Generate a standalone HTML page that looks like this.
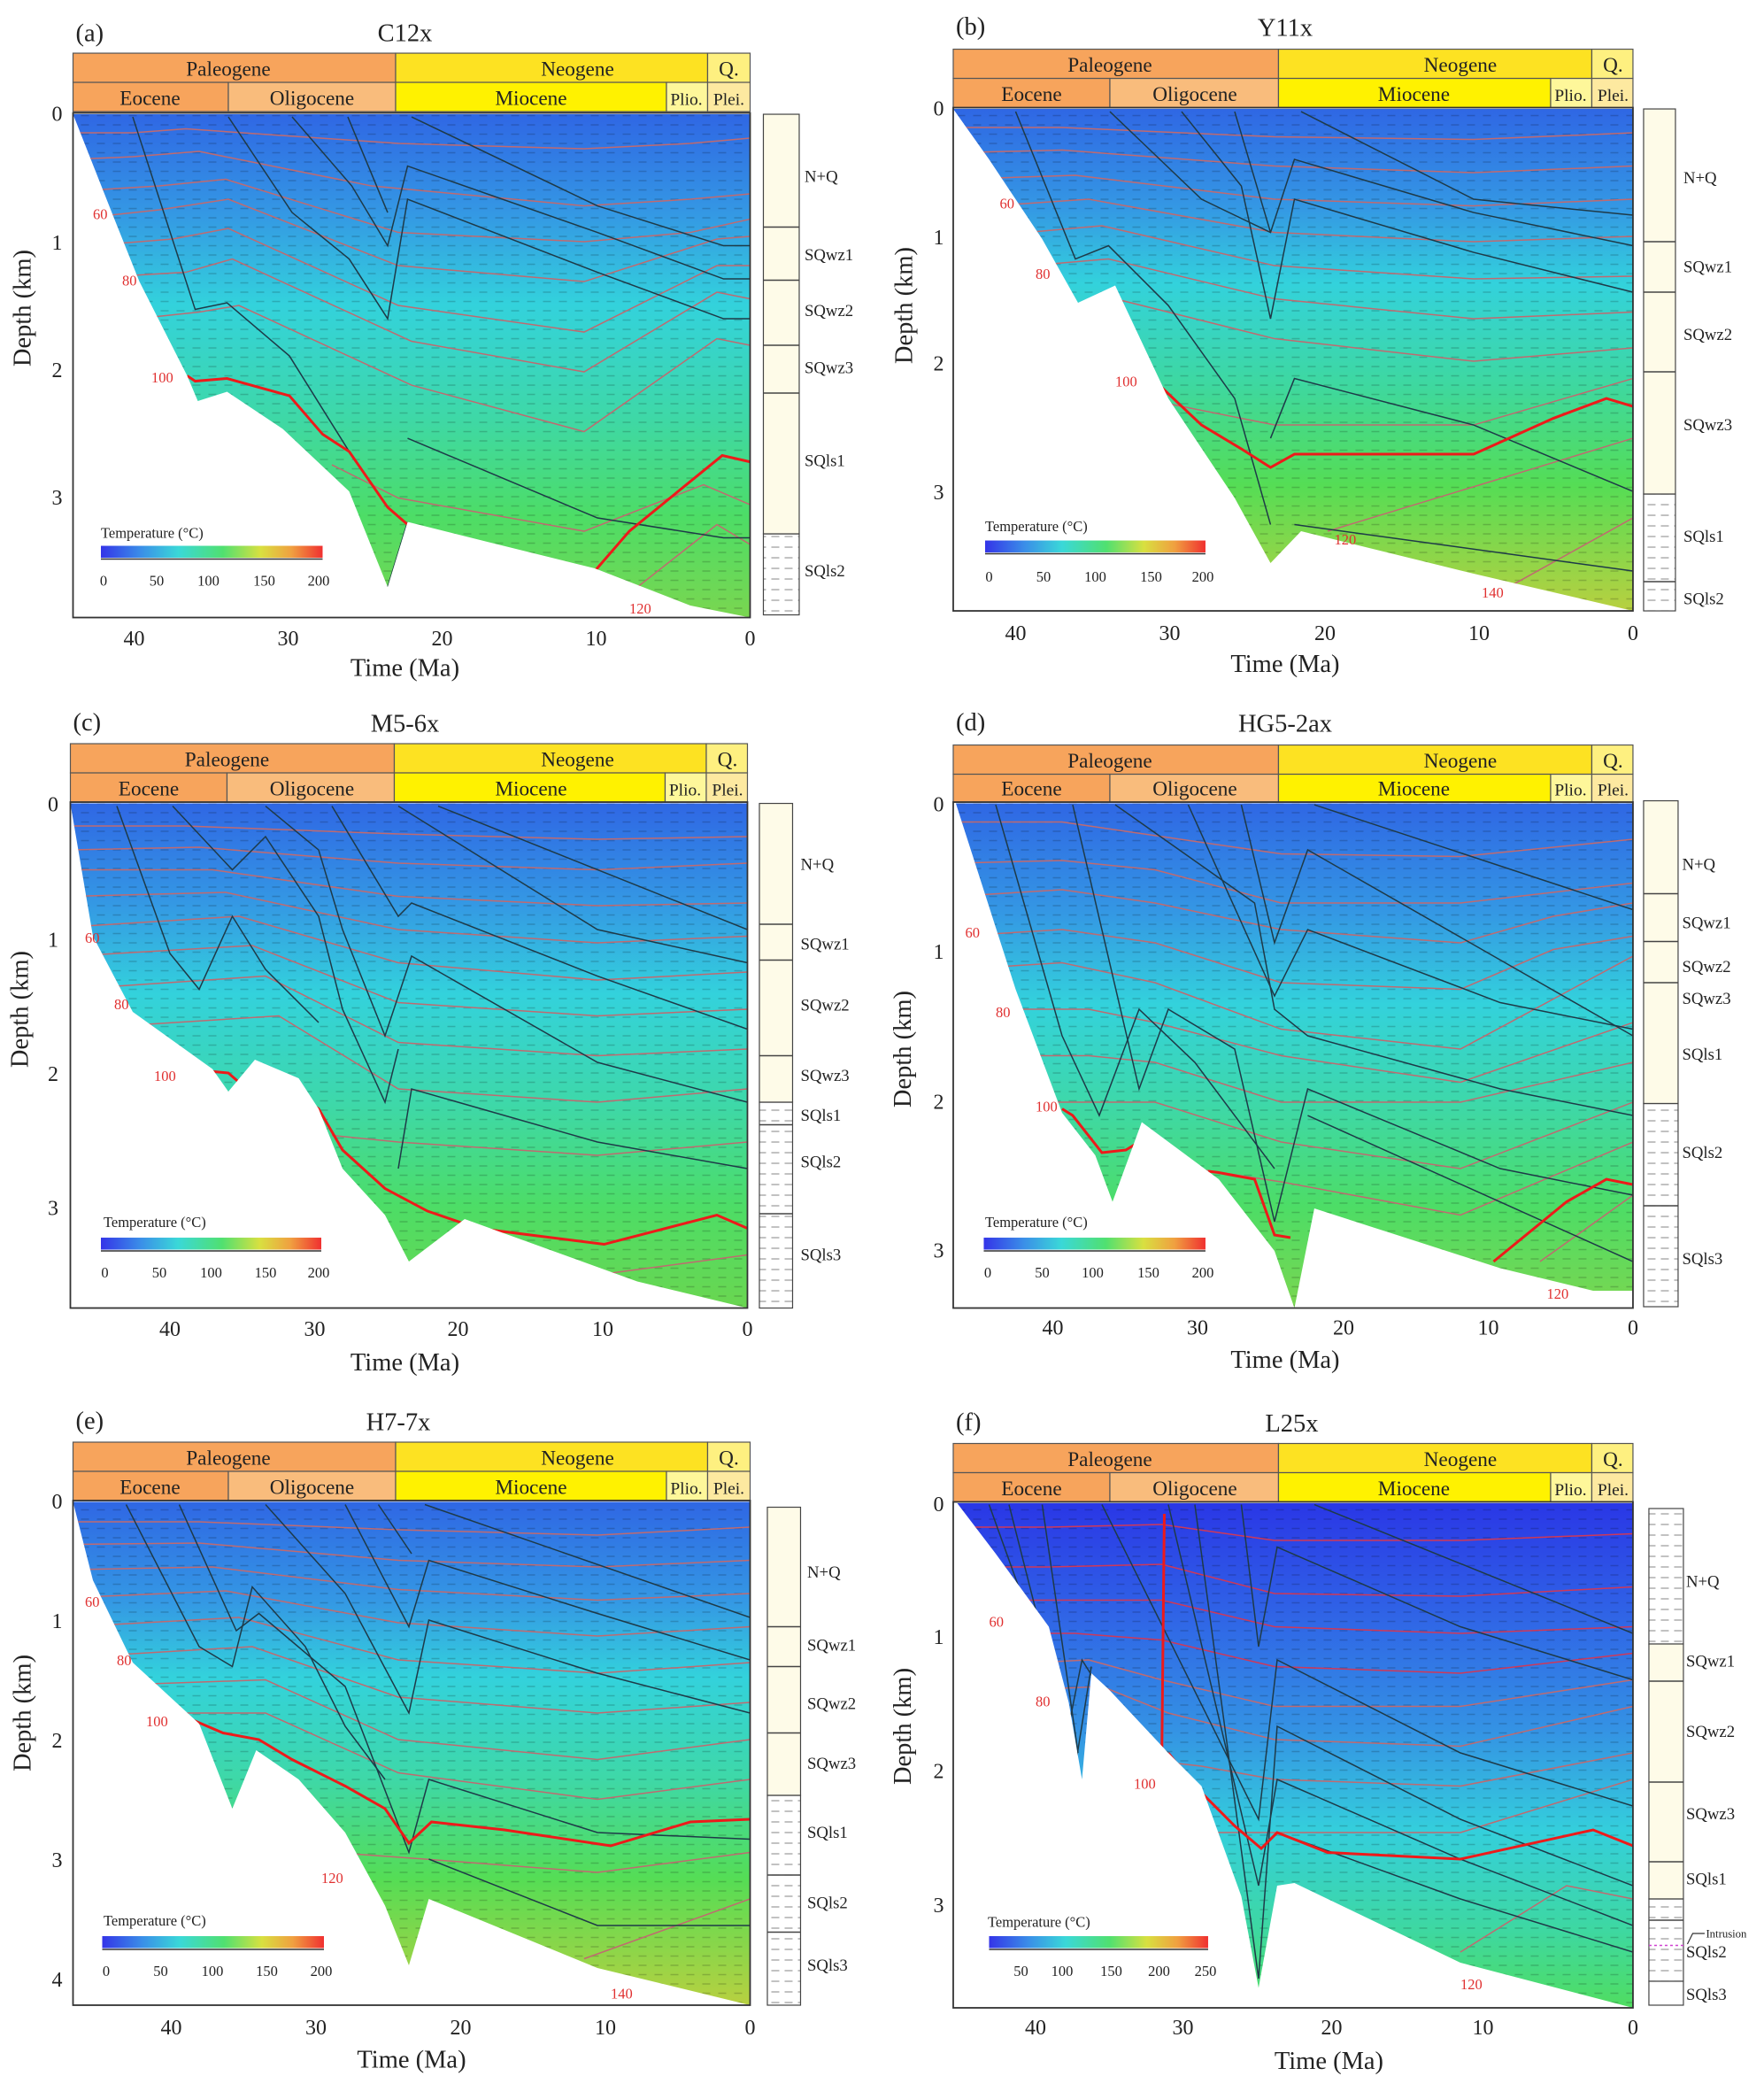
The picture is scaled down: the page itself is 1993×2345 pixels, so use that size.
<!DOCTYPE html>
<html><head><meta charset="utf-8"><style>
html,body{margin:0;padding:0;background:#fff}
svg{display:block}
text{font-family:"Liberation Serif",serif;fill:#222}
.h{font-size:15.5px;text-anchor:middle}
.t{font-size:19px;text-anchor:middle}
.tk{font-size:16px;text-anchor:middle}
.dk{font-size:16px;text-anchor:end}
.s{font-size:12.5px}
.r{font-size:11px;fill:#e03030}
.cb{font-size:11px;text-anchor:middle}
.iso{fill:none;stroke:#c06a70;stroke-width:1}
.bl{fill:none;stroke:#1e3a48;stroke-width:1}
.red{fill:none;stroke:#ee1a1a;stroke-width:2}
</style></head><body>
<svg width="1993" height="2345" viewBox="0 0 1328.7 1563.3" xmlns="http://www.w3.org/2000/svg">
<defs>
<linearGradient id="cbar" x1="0" x2="1" y1="0" y2="0">
<stop offset="0" stop-color="#3434e8"/><stop offset="0.18" stop-color="#3a8ee8"/><stop offset="0.35" stop-color="#3ad8d8"/><stop offset="0.55" stop-color="#50e070"/><stop offset="0.72" stop-color="#d8e040"/><stop offset="0.86" stop-color="#f0a040"/><stop offset="1" stop-color="#f03030"/></linearGradient>
<linearGradient id="ga" gradientUnits="userSpaceOnUse" x1="0" y1="85" x2="0" y2="465">
<stop offset="0" stop-color="#2f66e4"/><stop offset="0.2" stop-color="#3498e4"/><stop offset="0.38" stop-color="#33d2dc"/><stop offset="0.6" stop-color="#3ed8a8"/><stop offset="0.8" stop-color="#4ddd66"/><stop offset="1" stop-color="#7ad650"/></linearGradient>
<linearGradient id="gb" gradientUnits="userSpaceOnUse" x1="0" y1="81" x2="0" y2="460">
<stop offset="0" stop-color="#2f66e4"/><stop offset="0.2" stop-color="#3498e4"/><stop offset="0.35" stop-color="#33d2dc"/><stop offset="0.55" stop-color="#3ed8a0"/><stop offset="0.75" stop-color="#55dd55"/><stop offset="1" stop-color="#b8d040"/></linearGradient>
<linearGradient id="gc" gradientUnits="userSpaceOnUse" x1="0" y1="604" x2="0" y2="985">
<stop offset="0" stop-color="#2f66e4"/><stop offset="0.2" stop-color="#3498e4"/><stop offset="0.38" stop-color="#33d2dc"/><stop offset="0.6" stop-color="#3ed8a8"/><stop offset="0.8" stop-color="#4ddd66"/><stop offset="1" stop-color="#6ad650"/></linearGradient>
<linearGradient id="gd" gradientUnits="userSpaceOnUse" x1="0" y1="604" x2="0" y2="985">
<stop offset="0" stop-color="#2f66e4"/><stop offset="0.22" stop-color="#3498e4"/><stop offset="0.4" stop-color="#33d2dc"/><stop offset="0.6" stop-color="#3ed8a8"/><stop offset="0.8" stop-color="#4ddd66"/><stop offset="1" stop-color="#7ad650"/></linearGradient>
<linearGradient id="ge" gradientUnits="userSpaceOnUse" x1="0" y1="1130" x2="0" y2="1510">
<stop offset="0" stop-color="#2f66e4"/><stop offset="0.2" stop-color="#3498e4"/><stop offset="0.35" stop-color="#33d2dc"/><stop offset="0.55" stop-color="#3ed8a8"/><stop offset="0.75" stop-color="#55dd55"/><stop offset="1" stop-color="#b8d040"/></linearGradient>
<linearGradient id="gf" gradientUnits="userSpaceOnUse" x1="0" y1="1131" x2="0" y2="1512">
<stop offset="0" stop-color="#2a36e6"/><stop offset="0.2" stop-color="#2f5fe6"/><stop offset="0.45" stop-color="#3492e4"/><stop offset="0.65" stop-color="#34cfdc"/><stop offset="0.85" stop-color="#3ed8a0"/><stop offset="1" stop-color="#50dd60"/></linearGradient>
<pattern id="dash" width="12" height="7" patternUnits="userSpaceOnUse"><line x1="1" y1="3" x2="7" y2="3" stroke="#000" stroke-opacity="0.18" stroke-width="1"/></pattern>
<pattern id="sd" width="10" height="8" patternUnits="userSpaceOnUse"><line x1="1" y1="4" x2="7" y2="4" stroke="#999" stroke-width="0.8"/></pattern>
<clipPath id="ca"><polygon points="55,86 565,86 565,465 520,456 448,428 367,408 307,393 292,442 263,370 213,323 171,295 149,302 141,283 105,212 85,162"/></clipPath>
<clipPath id="cb"><polygon points="718,82 1230,82 1230,460 1110,432 980,400 957,424 930,375 880,300 840,215 812,228 785,180 745,120"/></clipPath>
<clipPath id="cc"><polygon points="53,605 563,605 563,985 480,965 350,918 308,950 290,915 258,880 240,835 225,812 192,798 172,822 160,805 100,762 70,705"/></clipPath>
<clipPath id="cd"><polygon points="720,605 1230,605 1230,972 1200,972 1130,955 990,910 975,985 960,942 918,888 860,845 838,905 825,870 800,838 765,745"/></clipPath>
<clipPath id="ce"><polygon points="55,1131 565,1131 565,1510 450,1482 323,1430 308,1480 290,1435 260,1380 225,1340 193,1318 175,1362 150,1298 100,1252 70,1190"/></clipPath>
<clipPath id="cf"><polygon points="721,1132 1230,1132 1230,1512 1100,1478 975,1418 962,1420 948,1497 935,1428 905,1345 880,1320 835,1272 822,1260 815,1340 805,1282 790,1225 750,1170"/></clipPath>
</defs>

<!-- ============ PANEL A ============ -->
<text x="57" y="31" style="font-size:19px">(a)</text>
<text x="305" y="31" class="t">C12x</text>
<rect x="55" y="40" width="243" height="22" fill="#f7a45c" stroke="#555" stroke-width=".8"/>
<rect x="298" y="40" width="235" height="22" fill="#fde222" stroke="#555" stroke-width=".8"/>
<rect x="533" y="40" width="32" height="22" fill="#fef080" stroke="#555" stroke-width=".8"/>
<rect x="55" y="62" width="117" height="22" fill="#f7a45c" stroke="#555" stroke-width=".8"/>
<rect x="172" y="62" width="126" height="22" fill="#f9bc7c" stroke="#555" stroke-width=".8"/>
<rect x="298" y="62" width="204" height="22" fill="#fff200" stroke="#555" stroke-width=".8"/>
<rect x="502" y="62" width="31" height="22" fill="#fef79a" stroke="#555" stroke-width=".8"/>
<rect x="533" y="62" width="32" height="22" fill="#fde9a0" stroke="#555" stroke-width=".8"/>
<text x="172" y="57" class="h">Paleogene</text><text x="435" y="57" class="h">Neogene</text><text x="549" y="57" class="h">Q.</text>
<text x="113" y="79" class="h">Eocene</text><text x="235" y="79" class="h">Oligocene</text><text x="400" y="79" class="h">Miocene</text><text x="517" y="79" class="h" style="font-size:13px">Plio.</text><text x="549" y="79" class="h" style="font-size:13px">Plei.</text>
<g clip-path="url(#ca)">
<rect x="55" y="85" width="510" height="380" fill="url(#ga)"/>
<rect x="55" y="85" width="510" height="380" fill="url(#dash)"/>
<g class="iso">
<polyline points="55,100 100,100 140,97 300,108 440,112 520,108 565,104"/>
<polyline points="55,120 100,118 150,114 280,140 440,155 520,150 565,146"/>
<polyline points="55,144 120,140 170,135 300,175 440,182 520,175 565,165"/>
<polyline points="55,165 120,158 172,150 300,200 440,212 540,180 565,178"/>
<polyline points="55,186 130,180 172,172 300,230 440,250 540,200 565,200"/>
<polyline points="55,210 140,205 175,195 310,257 440,280 540,220 565,225"/>
<polyline points="55,245 150,235 180,230 310,290 440,325 540,255 565,260"/>
<polyline points="250,350 300,375 440,400 530,365 565,380"/>
<polyline points="470,450 540,395 565,410"/>
</g>
<g class="bl">
<polyline points="100,88 147,233 171,228 218,268 263,340 292,382"/>
<polyline points="172,88 220,160 263,195 292,240 307,150 450,205 545,240 565,240"/>
<polyline points="220,88 265,140 292,185 307,125 450,175 545,210 565,210"/>
<polyline points="262,88 292,160"/>
<polyline points="310,88 450,155 545,185 565,185"/>
<polyline points="307,393 292,442"/>
<polyline points="307,330 450,390 545,405 565,405"/>
</g>
<polyline class="red" points="141,283 147,287 171,285 218,298 243,327 263,340 292,382 307,395 367,412 448,430 474,400 544,343 566,348"/>
</g>
<text x="70" y="165" class="r">60</text><text x="92" y="215" class="r">80</text><text x="114" y="288" class="r">100</text><text x="474" y="462" class="r">120</text>
<rect x="55" y="85" width="510" height="380" fill="none" stroke="#333" stroke-width="1.2"/>
<text x="47" y="91" class="dk">0</text><text x="47" y="188" class="dk">1</text><text x="47" y="284" class="dk">2</text><text x="47" y="380" class="dk">3</text>
<text x="101" y="486" class="tk">40</text><text x="217" y="486" class="tk">30</text><text x="333" y="486" class="tk">20</text><text x="449" y="486" class="tk">10</text><text x="565" y="486" class="tk">0</text>
<text x="305" y="509" class="t">Time (Ma)</text>
<text transform="translate(23,232) rotate(-90)" class="t">Depth (km)</text>
<text x="76" y="405" style="font-size:11px">Temperature (°C)</text>
<rect x="76" y="411" width="167" height="9" fill="url(#cbar)"/>
<line x1="76" y1="421" x2="243" y2="421" stroke="#333"/>
<text x="78" y="441" class="cb">0</text><text x="118" y="441" class="cb">50</text><text x="157" y="441" class="cb">100</text><text x="199" y="441" class="cb">150</text><text x="240" y="441" class="cb">200</text>
<rect x="575" y="86" width="27" height="316" fill="#fefbe8" stroke="#444" stroke-width=".8"/>
<rect x="575" y="402" width="27" height="61" fill="url(#sd)" stroke="#444" stroke-width=".8"/>
<g stroke="#444"><line x1="575" y1="171" x2="602" y2="171"/><line x1="575" y1="211" x2="602" y2="211"/><line x1="575" y1="260" x2="602" y2="260"/><line x1="575" y1="296" x2="602" y2="296"/></g>
<text x="606" y="137" class="s">N+Q</text><text x="606" y="196" class="s">SQwz1</text><text x="606" y="238" class="s">SQwz2</text><text x="606" y="281" class="s">SQwz3</text><text x="606" y="351" class="s">SQls1</text><text x="606" y="434" class="s">SQls2</text>

<!-- ============ PANEL B ============ -->
<text x="720" y="26" style="font-size:19px">(b)</text>
<text x="968" y="27" class="t">Y11x</text>
<rect x="718" y="37" width="245" height="22" fill="#f7a45c" stroke="#555" stroke-width=".8"/>
<rect x="963" y="37" width="236" height="22" fill="#fde222" stroke="#555" stroke-width=".8"/>
<rect x="1199" y="37" width="31" height="22" fill="#fef080" stroke="#555" stroke-width=".8"/>
<rect x="718" y="59" width="118" height="22" fill="#f7a45c" stroke="#555" stroke-width=".8"/>
<rect x="836" y="59" width="127" height="22" fill="#f9bc7c" stroke="#555" stroke-width=".8"/>
<rect x="963" y="59" width="205" height="22" fill="#fff200" stroke="#555" stroke-width=".8"/>
<rect x="1168" y="59" width="31" height="22" fill="#fef79a" stroke="#555" stroke-width=".8"/>
<rect x="1199" y="59" width="31" height="22" fill="#fde9a0" stroke="#555" stroke-width=".8"/>
<text x="836" y="54" class="h">Paleogene</text><text x="1100" y="54" class="h">Neogene</text><text x="1215" y="54" class="h">Q.</text>
<text x="777" y="76" class="h">Eocene</text><text x="900" y="76" class="h">Oligocene</text><text x="1065" y="76" class="h">Miocene</text><text x="1183" y="76" class="h" style="font-size:13px">Plio.</text><text x="1215" y="76" class="h" style="font-size:13px">Plei.</text>
<g clip-path="url(#cb)">
<rect x="718" y="81" width="512" height="379" fill="url(#gb)"/>
<rect x="718" y="81" width="512" height="379" fill="url(#dash)"/>
<g class="iso">
<polyline points="718,96 800,96 960,103 1110,105 1230,100"/>
<polyline points="718,115 800,113 960,125 1110,130 1230,125"/>
<polyline points="718,135 810,132 960,150 1110,155 1230,150"/>
<polyline points="718,157 820,150 960,175 1110,182 1230,178"/>
<polyline points="718,180 830,170 960,200 1110,210 1230,208"/>
<polyline points="718,205 835,195 960,225 1110,240 1230,235"/>
<polyline points="718,240 840,225 960,255 1110,272 1230,262"/>
<polyline points="860,300 960,320 1110,320 1230,285"/>
<polyline points="1000,400 1230,330"/><polyline points="1140,440 1230,390"/>
</g>
<g class="bl">
<polyline points="765,84 810,195 835,185 880,230 930,300 957,395"/>
<polyline points="836,84 905,150 957,175 975,120 1110,160 1230,185"/>
<polyline points="890,84 935,140 957,240 975,150 1110,190 1230,220"/>
<polyline points="930,84 957,175"/>
<polyline points="980,84 1110,150 1230,162"/>
<polyline points="957,330 975,285 1110,320 1230,370"/>
<polyline points="975,395 1230,430"/>
</g>
<polyline class="red" points="860,280 870,287 905,320 935,338 957,352 975,342 1110,342 1170,315 1210,300 1230,306"/>
</g>
<text x="753" y="157" class="r">60</text><text x="780" y="210" class="r">80</text><text x="840" y="291" class="r">100</text><text x="1005" y="410" class="r">120</text><text x="1116" y="450" class="r">140</text>
<rect x="718" y="81" width="512" height="379" fill="none" stroke="#333" stroke-width="1.2"/>
<text x="711" y="87" class="dk">0</text><text x="711" y="184" class="dk">1</text><text x="711" y="279" class="dk">2</text><text x="711" y="376" class="dk">3</text>
<text x="765" y="482" class="tk">40</text><text x="881" y="482" class="tk">30</text><text x="998" y="482" class="tk">20</text><text x="1114" y="482" class="tk">10</text><text x="1230" y="482" class="tk">0</text>
<text x="968" y="506" class="t">Time (Ma)</text>
<text transform="translate(687,230) rotate(-90)" class="t">Depth (km)</text>
<text x="742" y="400" style="font-size:11px">Temperature (°C)</text>
<rect x="742" y="407" width="166" height="9" fill="url(#cbar)"/>
<line x1="742" y1="417" x2="908" y2="417" stroke="#333"/>
<text x="745" y="438" class="cb">0</text><text x="786" y="438" class="cb">50</text><text x="825" y="438" class="cb">100</text><text x="867" y="438" class="cb">150</text><text x="906" y="438" class="cb">200</text>
<rect x="1238" y="82" width="24" height="290" fill="#fefbe8" stroke="#444" stroke-width=".8"/>
<rect x="1238" y="372" width="24" height="88" fill="url(#sd)" stroke="#444" stroke-width=".8"/>
<g stroke="#444"><line x1="1238" y1="182" x2="1262" y2="182"/><line x1="1238" y1="220" x2="1262" y2="220"/><line x1="1238" y1="280" x2="1262" y2="280"/><line x1="1238" y1="438" x2="1262" y2="438"/></g>
<text x="1268" y="138" class="s">N+Q</text><text x="1268" y="205" class="s">SQwz1</text><text x="1268" y="256" class="s">SQwz2</text><text x="1268" y="324" class="s">SQwz3</text><text x="1268" y="408" class="s">SQls1</text><text x="1268" y="455" class="s">SQls2</text>

<!-- ============ PANEL C ============ -->
<text x="55" y="550" style="font-size:19px">(c)</text>
<text x="305" y="551" class="t">M5-6x</text>
<rect x="53" y="560" width="244" height="22" fill="#f7a45c" stroke="#555" stroke-width=".8"/>
<rect x="297" y="560" width="235" height="22" fill="#fde222" stroke="#555" stroke-width=".8"/>
<rect x="532" y="560" width="31" height="22" fill="#fef080" stroke="#555" stroke-width=".8"/>
<rect x="53" y="582" width="118" height="22" fill="#f7a45c" stroke="#555" stroke-width=".8"/>
<rect x="171" y="582" width="126" height="22" fill="#f9bc7c" stroke="#555" stroke-width=".8"/>
<rect x="297" y="582" width="204" height="22" fill="#fff200" stroke="#555" stroke-width=".8"/>
<rect x="501" y="582" width="31" height="22" fill="#fef79a" stroke="#555" stroke-width=".8"/>
<rect x="532" y="582" width="31" height="22" fill="#fde9a0" stroke="#555" stroke-width=".8"/>
<text x="171" y="577" class="h">Paleogene</text><text x="435" y="577" class="h">Neogene</text><text x="548" y="577" class="h">Q.</text>
<text x="112" y="599" class="h">Eocene</text><text x="235" y="599" class="h">Oligocene</text><text x="400" y="599" class="h">Miocene</text><text x="516" y="599" class="h" style="font-size:13px">Plio.</text><text x="548" y="599" class="h" style="font-size:13px">Plei.</text>
<g clip-path="url(#cc)">
<rect x="53" y="604" width="510" height="381" fill="url(#gc)"/>
<rect x="53" y="604" width="510" height="381" fill="url(#dash)"/>
<g class="iso">
<polyline points="53,622 140,622 300,628 450,632 563,630"/>
<polyline points="53,640 150,638 300,650 450,655 563,650"/>
<polyline points="53,655 160,655 300,675 450,682 563,680"/>
<polyline points="53,675 170,672 300,700 450,710 563,705"/>
<polyline points="53,698 180,690 300,725 450,738 563,732"/>
<polyline points="53,720 190,712 300,755 450,765 563,760"/>
<polyline points="53,745 200,735 300,785 450,795 563,790"/>
<polyline points="53,775 210,765 300,820 450,830 563,820"/>
<polyline points="250,855 300,860 450,870 563,860"/>
<polyline points="450,960 563,945"/>
</g>
<g class="bl">
<polyline points="88,607 128,718 150,745 175,690 200,730 240,770"/>
<polyline points="130,607 175,655 200,630 240,690 258,760 290,830 300,790"/>
<polyline points="200,607 240,640 258,700 290,780 310,720 450,800 563,830"/>
<polyline points="250,607 300,690 310,680 450,735 563,775"/>
<polyline points="300,607 450,700 563,725"/>
<polyline points="330,607 563,700"/>
<polyline points="300,880 310,820 450,860 563,880"/>
</g>
<polyline class="red" points="130,805 140,805 172,808 180,815 225,825 240,835 258,866 290,895 322,912 360,925 455,937 540,915 563,925"/>
</g>
<text x="64" y="710" class="r">60</text><text x="86" y="760" class="r">80</text><text x="116" y="814" class="r">100</text>
<rect x="53" y="604" width="510" height="381" fill="none" stroke="#333" stroke-width="1.2"/>
<text x="44" y="611" class="dk">0</text><text x="44" y="713" class="dk">1</text><text x="44" y="814" class="dk">2</text><text x="44" y="915" class="dk">3</text>
<text x="128" y="1006" class="tk">40</text><text x="237" y="1006" class="tk">30</text><text x="345" y="1006" class="tk">20</text><text x="454" y="1006" class="tk">10</text><text x="563" y="1006" class="tk">0</text>
<text x="305" y="1032" class="t">Time (Ma)</text>
<text transform="translate(21,760) rotate(-90)" class="t">Depth (km)</text>
<text x="78" y="924" style="font-size:11px">Temperature (°C)</text>
<rect x="76" y="932" width="166" height="9" fill="url(#cbar)"/>
<line x1="76" y1="942" x2="242" y2="942" stroke="#333"/>
<text x="79" y="962" class="cb">0</text><text x="120" y="962" class="cb">50</text><text x="159" y="962" class="cb">100</text><text x="200" y="962" class="cb">150</text><text x="240" y="962" class="cb">200</text>
<rect x="572" y="605" width="25" height="225" fill="#fefbe8" stroke="#444" stroke-width=".8"/>
<rect x="572" y="830" width="25" height="155" fill="url(#sd)" stroke="#444" stroke-width=".8"/>
<g stroke="#444"><line x1="572" y1="696" x2="597" y2="696"/><line x1="572" y1="723" x2="597" y2="723"/><line x1="572" y1="795" x2="597" y2="795"/><line x1="572" y1="847" x2="597" y2="847"/><line x1="572" y1="914" x2="597" y2="914"/></g>
<text x="603" y="655" class="s">N+Q</text><text x="603" y="715" class="s">SQwz1</text><text x="603" y="761" class="s">SQwz2</text><text x="603" y="814" class="s">SQwz3</text><text x="603" y="844" class="s">SQls1</text><text x="603" y="879" class="s">SQls2</text><text x="603" y="949" class="s">SQls3</text>

<!-- ============ PANEL D ============ -->
<text x="720" y="550" style="font-size:19px">(d)</text>
<text x="968" y="551" class="t">HG5-2ax</text>
<rect x="718" y="561" width="245" height="22" fill="#f7a45c" stroke="#555" stroke-width=".8"/>
<rect x="963" y="561" width="236" height="22" fill="#fde222" stroke="#555" stroke-width=".8"/>
<rect x="1199" y="561" width="31" height="22" fill="#fef080" stroke="#555" stroke-width=".8"/>
<rect x="718" y="583" width="118" height="21" fill="#f7a45c" stroke="#555" stroke-width=".8"/>
<rect x="836" y="583" width="127" height="21" fill="#f9bc7c" stroke="#555" stroke-width=".8"/>
<rect x="963" y="583" width="205" height="21" fill="#fff200" stroke="#555" stroke-width=".8"/>
<rect x="1168" y="583" width="31" height="21" fill="#fef79a" stroke="#555" stroke-width=".8"/>
<rect x="1199" y="583" width="31" height="21" fill="#fde9a0" stroke="#555" stroke-width=".8"/>
<text x="836" y="578" class="h">Paleogene</text><text x="1100" y="578" class="h">Neogene</text><text x="1215" y="578" class="h">Q.</text>
<text x="777" y="599" class="h">Eocene</text><text x="900" y="599" class="h">Oligocene</text><text x="1065" y="599" class="h">Miocene</text><text x="1183" y="599" class="h" style="font-size:13px">Plio.</text><text x="1215" y="599" class="h" style="font-size:13px">Plei.</text>
<g clip-path="url(#cd)">
<rect x="718" y="604" width="512" height="381" fill="url(#gd)"/>
<rect x="718" y="604" width="512" height="381" fill="url(#dash)"/>
<g class="iso">
<polyline points="718,619 800,619 965,643 1100,645 1230,632"/>
<polyline points="718,650 800,648 870,655 965,680 1100,680 1230,665"/>
<polyline points="718,675 800,670 870,680 965,700 1100,710 1170,690 1230,680"/>
<polyline points="718,705 800,700 870,710 965,740 1100,745 1170,715 1230,705"/>
<polyline points="718,730 800,725 870,740 965,775 1100,790 1230,720"/>
<polyline points="718,760 820,760 870,770 965,795 1100,815 1230,770"/>
<polyline points="718,795 820,795 870,800 965,830 1100,830 1230,800"/>
<polyline points="718,830 870,830 965,860 1100,880 1230,830"/>
<polyline points="900,880 965,890 1100,915 1230,860"/><polyline points="1160,950 1230,900"/>
</g>
<g class="bl">
<polyline points="750,606 800,780 828,840 858,760 900,800 960,880"/>
<polyline points="808,606 858,820 880,760 930,790 960,920 985,820 1130,880 1230,900"/>
<polyline points="840,606 945,680 960,760 985,780 1130,820 1230,840"/>
<polyline points="895,606 960,750 985,700 1130,755 1230,775"/>
<polyline points="935,606 960,710 985,640 1230,780"/>
<polyline points="990,606 1230,685"/>
<polyline points="985,840 1230,950"/>
</g>
<polyline class="red" points="800,835 808,840 830,868 848,866 858,860"/>
<polyline class="red" points="910,882 918,883 945,888 960,930 972,932"/>
<polyline class="red" points="1125,950 1180,905 1210,888 1230,892"/>
</g>
<text x="727" y="706" class="r">60</text><text x="750" y="766" class="r">80</text><text x="780" y="837" class="r">100</text><text x="1165" y="978" class="r">120</text>
<rect x="718" y="604" width="512" height="381" fill="none" stroke="#333" stroke-width="1.2"/>
<text x="711" y="611" class="dk">0</text><text x="711" y="722" class="dk">1</text><text x="711" y="835" class="dk">2</text><text x="711" y="947" class="dk">3</text>
<text x="793" y="1005" class="tk">40</text><text x="902" y="1005" class="tk">30</text><text x="1012" y="1005" class="tk">20</text><text x="1121" y="1005" class="tk">10</text><text x="1230" y="1005" class="tk">0</text>
<text x="968" y="1030" class="t">Time (Ma)</text>
<text transform="translate(686,790) rotate(-90)" class="t">Depth (km)</text>
<text x="742" y="924" style="font-size:11px">Temperature (°C)</text>
<rect x="741" y="932" width="167" height="9" fill="url(#cbar)"/>
<line x1="741" y1="942" x2="908" y2="942" stroke="#333"/>
<text x="744" y="962" class="cb">0</text><text x="785" y="962" class="cb">50</text><text x="823" y="962" class="cb">100</text><text x="865" y="962" class="cb">150</text><text x="906" y="962" class="cb">200</text>
<rect x="1238" y="603" width="26" height="228" fill="#fefbe8" stroke="#444" stroke-width=".8"/>
<rect x="1238" y="831" width="26" height="153" fill="url(#sd)" stroke="#444" stroke-width=".8"/>
<g stroke="#444"><line x1="1238" y1="673" x2="1264" y2="673"/><line x1="1238" y1="709" x2="1264" y2="709"/><line x1="1238" y1="740" x2="1264" y2="740"/><line x1="1238" y1="908" x2="1264" y2="908"/></g>
<text x="1267" y="655" class="s">N+Q</text><text x="1267" y="699" class="s">SQwz1</text><text x="1267" y="732" class="s">SQwz2</text><text x="1267" y="756" class="s">SQwz3</text><text x="1267" y="798" class="s">SQls1</text><text x="1267" y="872" class="s">SQls2</text><text x="1267" y="952" class="s">SQls3</text>

<!-- ============ PANEL E ============ -->
<text x="57" y="1076" style="font-size:19px">(e)</text>
<text x="300" y="1077" class="t">H7-7x</text>
<rect x="55" y="1086" width="243" height="22" fill="#f7a45c" stroke="#555" stroke-width=".8"/>
<rect x="298" y="1086" width="235" height="22" fill="#fde222" stroke="#555" stroke-width=".8"/>
<rect x="533" y="1086" width="32" height="22" fill="#fef080" stroke="#555" stroke-width=".8"/>
<rect x="55" y="1108" width="117" height="22" fill="#f7a45c" stroke="#555" stroke-width=".8"/>
<rect x="172" y="1108" width="126" height="22" fill="#f9bc7c" stroke="#555" stroke-width=".8"/>
<rect x="298" y="1108" width="204" height="22" fill="#fff200" stroke="#555" stroke-width=".8"/>
<rect x="502" y="1108" width="31" height="22" fill="#fef79a" stroke="#555" stroke-width=".8"/>
<rect x="533" y="1108" width="32" height="22" fill="#fde9a0" stroke="#555" stroke-width=".8"/>
<text x="172" y="1103" class="h">Paleogene</text><text x="435" y="1103" class="h">Neogene</text><text x="549" y="1103" class="h">Q.</text>
<text x="113" y="1125" class="h">Eocene</text><text x="235" y="1125" class="h">Oligocene</text><text x="400" y="1125" class="h">Miocene</text><text x="517" y="1125" class="h" style="font-size:13px">Plio.</text><text x="549" y="1125" class="h" style="font-size:13px">Plei.</text>
<g clip-path="url(#ce)">
<rect x="55" y="1130" width="510" height="380" fill="url(#ge)"/>
<rect x="55" y="1130" width="510" height="380" fill="url(#dash)"/>
<g class="iso">
<polyline points="55,1146 150,1146 300,1152 450,1156 565,1150"/>
<polyline points="55,1163 150,1162 300,1175 450,1180 565,1175"/>
<polyline points="55,1182 160,1180 300,1197 450,1205 565,1200"/>
<polyline points="55,1203 170,1198 300,1222 450,1232 565,1225"/>
<polyline points="55,1225 180,1218 300,1250 450,1260 565,1252"/>
<polyline points="55,1248 190,1240 300,1278 450,1290 565,1282"/>
<polyline points="55,1270 200,1265 300,1310 450,1325 565,1310"/>
<polyline points="55,1290 200,1290 300,1335 450,1355 565,1340"/>
<polyline points="250,1395 320,1400 450,1410 565,1395"/>
<polyline points="440,1475 565,1430"/>
</g>
<g class="bl">
<polyline points="95,1133 150,1240 175,1255 190,1195 230,1240 260,1300 290,1340"/>
<polyline points="135,1133 178,1228 195,1215 260,1270 308,1395 323,1340 450,1380 565,1385"/>
<polyline points="200,1133 260,1200 308,1290 323,1220 450,1260 565,1290"/>
<polyline points="260,1133 308,1225 323,1175 450,1215 565,1250"/>
<polyline points="285,1133 310,1170"/>
<polyline points="320,1133 565,1218"/>
<polyline points="323,1400 450,1450 565,1450"/>
</g>
<polyline class="red" points="130,1290 140,1293 168,1305 195,1310 220,1325 260,1345 290,1362 308,1388 325,1372 380,1378 460,1390 520,1372 565,1370"/>
</g>
<text x="64" y="1210" class="r">60</text><text x="88" y="1254" class="r">80</text><text x="110" y="1300" class="r">100</text><text x="242" y="1418" class="r">120</text><text x="460" y="1505" class="r">140</text>
<rect x="55" y="1130" width="510" height="380" fill="none" stroke="#333" stroke-width="1.2"/>
<text x="47" y="1136" class="dk">0</text><text x="47" y="1226" class="dk">1</text><text x="47" y="1316" class="dk">2</text><text x="47" y="1406" class="dk">3</text><text x="47" y="1496" class="dk">4</text>
<text x="129" y="1532" class="tk">40</text><text x="238" y="1532" class="tk">30</text><text x="347" y="1532" class="tk">20</text><text x="456" y="1532" class="tk">10</text><text x="565" y="1532" class="tk">0</text>
<text x="310" y="1557" class="t">Time (Ma)</text>
<text transform="translate(23,1290) rotate(-90)" class="t">Depth (km)</text>
<text x="78" y="1450" style="font-size:11px">Temperature (°C)</text>
<rect x="77" y="1458" width="167" height="9" fill="url(#cbar)"/>
<line x1="77" y1="1468" x2="244" y2="1468" stroke="#333"/>
<text x="80" y="1488" class="cb">0</text><text x="121" y="1488" class="cb">50</text><text x="160" y="1488" class="cb">100</text><text x="201" y="1488" class="cb">150</text><text x="242" y="1488" class="cb">200</text>
<rect x="578" y="1135" width="25" height="217" fill="#fefbe8" stroke="#444" stroke-width=".8"/>
<rect x="578" y="1352" width="25" height="158" fill="url(#sd)" stroke="#444" stroke-width=".8"/>
<g stroke="#444"><line x1="578" y1="1225" x2="603" y2="1225"/><line x1="578" y1="1255" x2="603" y2="1255"/><line x1="578" y1="1305" x2="603" y2="1305"/><line x1="578" y1="1412" x2="603" y2="1412"/><line x1="578" y1="1455" x2="603" y2="1455"/></g>
<text x="608" y="1188" class="s">N+Q</text><text x="608" y="1243" class="s">SQwz1</text><text x="608" y="1287" class="s">SQwz2</text><text x="608" y="1332" class="s">SQwz3</text><text x="608" y="1384" class="s">SQls1</text><text x="608" y="1437" class="s">SQls2</text><text x="608" y="1484" class="s">SQls3</text>

<!-- ============ PANEL F ============ -->
<text x="720" y="1077" style="font-size:19px">(f)</text>
<text x="973" y="1078" class="t">L25x</text>
<rect x="718" y="1087" width="245" height="22" fill="#f7a45c" stroke="#555" stroke-width=".8"/>
<rect x="963" y="1087" width="236" height="22" fill="#fde222" stroke="#555" stroke-width=".8"/>
<rect x="1199" y="1087" width="31" height="22" fill="#fef080" stroke="#555" stroke-width=".8"/>
<rect x="718" y="1109" width="118" height="22" fill="#f7a45c" stroke="#555" stroke-width=".8"/>
<rect x="836" y="1109" width="127" height="22" fill="#f9bc7c" stroke="#555" stroke-width=".8"/>
<rect x="963" y="1109" width="205" height="22" fill="#fff200" stroke="#555" stroke-width=".8"/>
<rect x="1168" y="1109" width="31" height="22" fill="#fef79a" stroke="#555" stroke-width=".8"/>
<rect x="1199" y="1109" width="31" height="22" fill="#fde9a0" stroke="#555" stroke-width=".8"/>
<text x="836" y="1104" class="h">Paleogene</text><text x="1100" y="1104" class="h">Neogene</text><text x="1215" y="1104" class="h">Q.</text>
<text x="777" y="1126" class="h">Eocene</text><text x="900" y="1126" class="h">Oligocene</text><text x="1065" y="1126" class="h">Miocene</text><text x="1183" y="1126" class="h" style="font-size:13px">Plio.</text><text x="1215" y="1126" class="h" style="font-size:13px">Plei.</text>
<g clip-path="url(#cf)">
<rect x="718" y="1131" width="512" height="381" fill="url(#gf)"/>
<rect x="718" y="1131" width="512" height="381" fill="url(#dash)"/>
<g class="iso" style="stroke:#d03858">
<polyline points="718,1150 790,1150 875,1148 960,1160 1100,1160 1230,1155"/>
<polyline points="718,1180 790,1180 875,1178 960,1200 1100,1202 1230,1195"/>
<polyline points="718,1205 800,1205 875,1205 960,1225 1100,1230 1230,1225"/>
<polyline points="718,1230 810,1230 875,1235 960,1255 1100,1260 1230,1245"/>
</g>
<g class="iso">
<polyline points="718,1255 820,1250 875,1265 960,1285 1100,1285 1230,1265"/>
<polyline points="718,1275 830,1270 880,1290 960,1310 1100,1315 1230,1285"/>
<polyline points="860,1325 905,1330 960,1340 1100,1345 1230,1320"/>
<polyline points="900,1380 935,1380 1100,1380 1230,1340"/>
<polyline points="1100,1470 1180,1420 1230,1430"/>
</g>
<g class="bl">
<polyline points="745,1133 805,1300 815,1250 840,1290 880,1320"/>
<polyline points="760,1133 810,1330 822,1255"/>
<polyline points="785,1133 812,1320"/>
<polyline points="900,1133 948,1490 962,1300 1100,1370 1230,1420"/>
<polyline points="830,1133 948,1370 962,1250 1100,1320 1230,1360"/>
<polyline points="880,1133 948,1420 962,1340 1100,1400 1230,1450"/>
<polyline points="935,1133 948,1240 962,1165 1100,1225 1230,1265"/>
<polyline points="990,1133 1230,1230"/>
<polyline points="962,1380 1100,1430 1230,1470"/>
</g>
<polyline class="red" points="877,1140 875,1335 890,1345"/>
<polyline class="red" points="880,1320 900,1345 930,1375 950,1392 962,1380 1000,1395 1100,1400 1200,1378 1230,1390"/>
</g>
<text x="745" y="1225" class="r">60</text><text x="780" y="1285" class="r">80</text><text x="854" y="1347" class="r">100</text><text x="1100" y="1498" class="r">120</text>
<rect x="718" y="1131" width="512" height="381" fill="none" stroke="#333" stroke-width="1.2"/>
<text x="711" y="1138" class="dk">0</text><text x="711" y="1238" class="dk">1</text><text x="711" y="1339" class="dk">2</text><text x="711" y="1440" class="dk">3</text>
<text x="780" y="1532" class="tk">40</text><text x="891" y="1532" class="tk">30</text><text x="1003" y="1532" class="tk">20</text><text x="1117" y="1532" class="tk">10</text><text x="1230" y="1532" class="tk">0</text>
<text x="1001" y="1558" class="t">Time (Ma)</text>
<text transform="translate(686,1300) rotate(-90)" class="t">Depth (km)</text>
<text x="744" y="1451" style="font-size:11px">Temperature (°C)</text>
<rect x="745" y="1458" width="165" height="9" fill="url(#cbar)"/>
<line x1="745" y1="1468" x2="910" y2="1468" stroke="#333"/>
<text x="769" y="1488" class="cb">50</text><text x="800" y="1488" class="cb">100</text><text x="837" y="1488" class="cb">150</text><text x="873" y="1488" class="cb">200</text><text x="908" y="1488" class="cb">250</text>
<rect x="1242" y="1136" width="26" height="102" fill="url(#sd)" stroke="#444" stroke-width=".8"/>
<rect x="1242" y="1238" width="26" height="192" fill="#fefbe8" stroke="#444" stroke-width=".8"/>
<rect x="1242" y="1430" width="26" height="62" fill="url(#sd)" stroke="#444" stroke-width=".8"/>
<rect x="1242" y="1492" width="26" height="18" fill="#fff" stroke="#444" stroke-width=".8"/>
<g stroke="#444"><line x1="1242" y1="1266" x2="1268" y2="1266"/><line x1="1242" y1="1342" x2="1268" y2="1342"/><line x1="1242" y1="1402" x2="1268" y2="1402"/><line x1="1242" y1="1446" x2="1268" y2="1446"/></g>
<line x1="1242" y1="1465" x2="1268" y2="1465" stroke="#d040d0" stroke-dasharray="2,2"/>
<text x="1270" y="1195" class="s">N+Q</text><text x="1270" y="1255" class="s">SQwz1</text><text x="1270" y="1308" class="s">SQwz2</text><text x="1270" y="1370" class="s">SQwz3</text><text x="1270" y="1419" class="s">SQls1</text><text x="1270" y="1474" class="s">SQls2</text><text x="1270" y="1506" class="s">SQls3</text>
<polyline points="1271,1464 1275,1456 1284,1456" fill="none" stroke="#333" stroke-width=".8"/>
<text x="1285" y="1459" style="font-size:8.5px">Intrusion</text>
</svg>
</body></html>
